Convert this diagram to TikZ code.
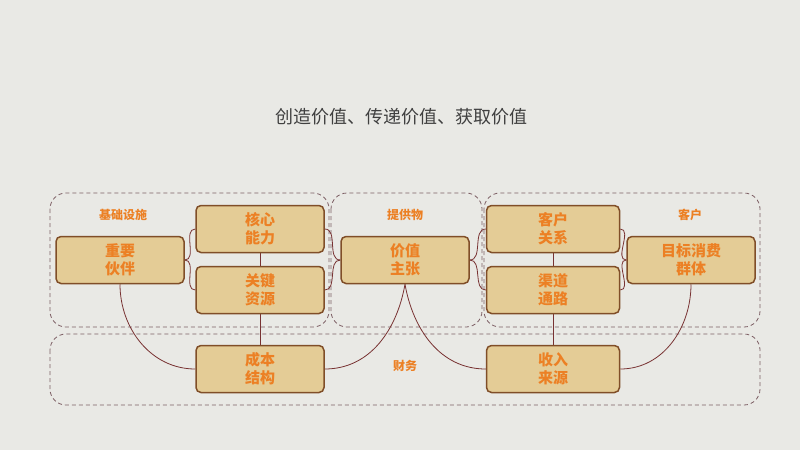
\documentclass[tikz,border=0pt]{standalone}
\usepackage{fontspec}
\newfontfamily\cjk{Noto Sans CJK SC}
\definecolor{bgcol}{RGB}{233,233,229}
\definecolor{boxfill}{RGB}{228,204,150}
\definecolor{boxline}{RGB}{128,78,40}
\definecolor{txtorange}{RGB}{236,128,36}
\definecolor{linecol}{RGB}{120,50,50}
\definecolor{dashcol}{RGB}{125,95,100}
\pgfdeclarelayer{bg}
\pgfdeclarelayer{lines}
\pgfsetlayers{bg,lines,main}
\tikzset{block/.style={draw=boxline, line width=1.5pt, fill=boxfill,
        rounded corners=5pt, minimum width=128pt, minimum height=47pt,
        align=center, inner sep=0pt, text=txtorange,
        font=\cjk\bfseries\fontsize{15}{18}\selectfont},
    group/.style={draw=dashcol, dash pattern=on 4pt off 3pt, line width=0.8pt, rounded corners=16pt},
    grouplabel/.style={text=txtorange, font=\cjk\bfseries\fontsize{12}{14}\selectfont},
    link/.style={draw=linecol, line width=0.8pt},
    }
\begin{document}
\begin{tikzpicture}[x=1pt,y=-1pt]
	\begin{pgfonlayer}{bg}
	\fill[bgcol] (0,0) rectangle (800,450);
	% groups
	\draw[group] (50,193) rectangle (329,327);
	\draw[group] (331,193) rectangle (482,327);
	\draw[group] (484,193) rectangle (760,327);
	\draw[group] (50,334) rectangle (760,405);
	\end{pgfonlayer}
	\node[font=\cjk\fontsize{18}{21}\selectfont, text=black!75] (title) at (401,117) {创造价值、传递价值、获取价值};
	\node[grouplabel] (infra) at (123,215) {基础设施};
	\node[grouplabel] (offer) at (405,215) {提供物};
	\node[grouplabel] (customer) at (690,215) {客户};
	\node[grouplabel] (finance) at (405,366) {财务};
	% blocks
	\node[block] (partners) at (120,260) {重要\\伙伴};
	\node[block] (activities) at (260,229) {核心\\能力};
	\node[block] (resources) at (260,290) {关键\\资源};
	\node[block] (value) at (405,260) {价值\\主张};
	\node[block, minimum width=133pt] (relations) at (553,229) {客户\\关系};
	\node[block, minimum width=133pt] (channels) at (553,290) {渠道\\通路};
	\node[block] (segments) at (691,260) {目标消费\\群体};
	\node[block] (cost) at (260,369) {成本\\结构};
	\node[block, minimum width=133pt] (revenue) at (553,369) {收入\\来源};
	% links
	\begin{pgfonlayer}{lines}
	\draw[link] (partners.east) to[out=0,in=180] (activities.west);
	\draw[link] (partners.east) to[out=0,in=180] (resources.west);
	\draw[link] (activities.east) to[out=0,in=180] (value.west);
	\draw[link] (resources.east) to[out=0,in=180] (value.west);
	\draw[link] (value.east) to[out=0,in=180] (relations.west);
	\draw[link] (value.east) to[out=0,in=180] (channels.west);
	\draw[link] (relations.east) to[out=0,in=180] (segments.west);
	\draw[link] (channels.east) to[out=0,in=180] (segments.west);
	\draw[link] (activities.south) -- (cost.north);
	\draw[link] (relations.south) -- (revenue.north);
	\draw[link] (partners.south) to[out=-90,in=180] (cost.west);
	\draw[link] (value.south) to[out=-100,in=0] (cost.east);
	\draw[link] (value.south) to[out=-80,in=180] (revenue.west);
	\draw[link] (segments.south) to[out=-90,in=0] (revenue.east);
	\end{pgfonlayer}
\end{tikzpicture}
\end{document}
